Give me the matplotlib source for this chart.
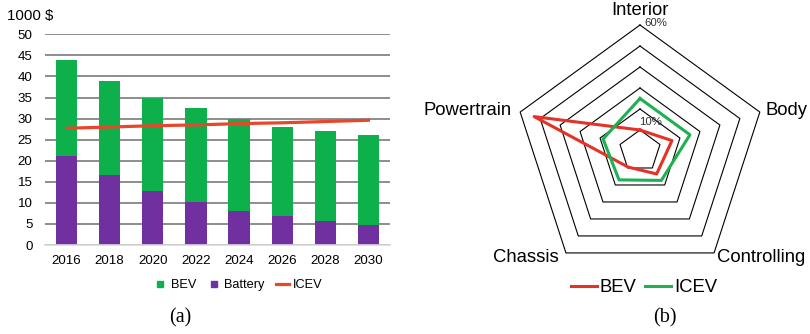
import numpy as np
import matplotlib.pyplot as plt
from matplotlib.lines import Line2D

# =========================
# 1. DATA
# =========================
years = ['2016', '2018', '2020', '2022', '2024', '2026', '2028', '2030']
bev_total = [44.0, 39.0, 35.0, 32.6, 30.0, 28.1, 27.1, 26.1]
battery = [21.2, 16.5, 12.7, 10.2, 8.1, 6.8, 5.8, 4.7]
icev = [27.7, 28.0, 28.3, 28.5, 28.8, 29.0, 29.3, 29.6]

parts = ['Interior', 'Body', 'Controlling', 'Chassis', 'Powertrain']
bev_share = [10, 16, 13.5, 9.5, 53]
icev_share = [25, 25, 17.3, 17, 18.5]
rings = [10, 20, 30, 40, 50, 60]

green = '#0DB04B'
purple = '#7030A0'
orange = '#E8472B'
red = '#E53228'
green2 = '#1DB152'

plt.rcParams['font.family'] = ['Liberation Sans', 'DejaVu Sans']

fig = plt.figure(figsize=(8.1, 3.34), dpi=100)

# =========================
# 2. BAR CHART (a)
# =========================
ax = fig.add_axes([45 / 810, 89 / 334, 345 / 810, 210.7 / 334])
x = np.arange(len(years))
bev_top = np.array(bev_total) - np.array(battery)

ax.bar(x, battery, width=0.49, color=purple, zorder=3)
ax.bar(x, bev_top, bottom=battery, width=0.49, color=green, zorder=3)
ax.plot(x, icev, color=orange, linewidth=2.3, zorder=4)

ax.set_xlim(-0.5, 7.5)
ax.set_ylim(0, 50)
ax.set_yticks(np.arange(0, 51, 5))
ax.set_xticks(x)
ax.set_xticklabels(years)
ax.tick_params(axis='both', length=0, labelsize=9.6)
ax.tick_params(axis='y', pad=9)
ax.tick_params(axis='x', pad=7)
ax.grid(axis='y', color='#6f6f6f', linewidth=1.1, zorder=0)
for s in ['top', 'right', 'left']:
    ax.spines[s].set_visible(False)
ax.spines['bottom'].set_color('#d9d9d9')
ax.spines['bottom'].set_linewidth(1.2)
ax.spines['bottom'].set_zorder(5)

fig.text(7 / 810, 1 - 16 / 334, '1000 $', fontsize=10.8, va='center', ha='left')

handles_a = [
    Line2D([], [], marker='s', linestyle='none', color=green, markersize=4.5),
    Line2D([], [], marker='s', linestyle='none', color=purple, markersize=4.5),
    Line2D([], [], color=orange, linewidth=2.3),
]
fig.legend(handles_a, ['BEV', 'Battery', 'ICEV'], loc='center',
           bbox_to_anchor=(238 / 810, 1 - 285 / 334), ncol=3, frameon=False,
           fontsize=9.2, handlelength=1.0, handletextpad=0.3, columnspacing=0.9)

fig.text(180 / 810, 1 - 318 / 334, '(a)', fontsize=14.5, ha='center', va='center',
         family=['Liberation Serif', 'DejaVu Serif'])

# =========================
# 3. RADAR CHART (b)
# =========================
rax = fig.add_axes([514 / 810, 57 / 334, 252 / 810, 252 / 334], projection='polar')
rax.set_theta_offset(np.pi / 2)
rax.set_theta_direction(-1)
rax.set_ylim(0, 60)
rax.set_axis_off()

theta = np.arange(len(parts)) * 2 * np.pi / len(parts)
theta_closed = np.append(theta, theta[0])

for r in rings:
    rax.plot(theta_closed, [r] * len(theta_closed), color='black',
             linewidth=0.8, clip_on=False)

rax.plot(theta_closed, bev_share + bev_share[:1], color=red, linewidth=2.2,
         clip_on=False, label='BEV')
rax.plot(theta_closed, icev_share + icev_share[:1], color=green2, linewidth=2.2,
         clip_on=False, label='ICEV')

rax.annotate('10%', xy=(0, rings[0]), xytext=(-1, 2), textcoords='offset points',
             ha='left', va='bottom', fontsize=8.2, color='#333333')
rax.annotate('60%', xy=(0, rings[-1]), xytext=(3, -2), textcoords='offset points',
             ha='left', va='bottom', fontsize=8.2, color='#333333')

label_pos = {
    'Interior': ((0, 4), 'center', 'bottom'),
    'Body': ((4, 1), 'left', 'center'),
    'Controlling': ((2, -3), 'left', 'center'),
    'Chassis': ((-5, -3), 'right', 'center'),
    'Powertrain': ((-6, 1), 'right', 'center'),
}
for t, name in zip(theta, parts):
    off, ha, va = label_pos[name]
    rax.annotate(name, xy=(t, rings[-1]), xytext=off, textcoords='offset points',
                 ha=ha, va=va, fontsize=13.3, annotation_clip=False)

fig.legend(handles=rax.get_lines()[-2:], loc='center',
           bbox_to_anchor=(644 / 810, 1 - 288 / 334), ncol=2, frameon=False,
           fontsize=13.3, handlelength=1.4, handletextpad=0.15, columnspacing=0.5)

fig.text(665 / 810, 1 - 318 / 334, '(b)', fontsize=14.5, ha='center', va='center',
         family=['Liberation Serif', 'DejaVu Serif'])

plt.savefig('out.png', dpi=100)
